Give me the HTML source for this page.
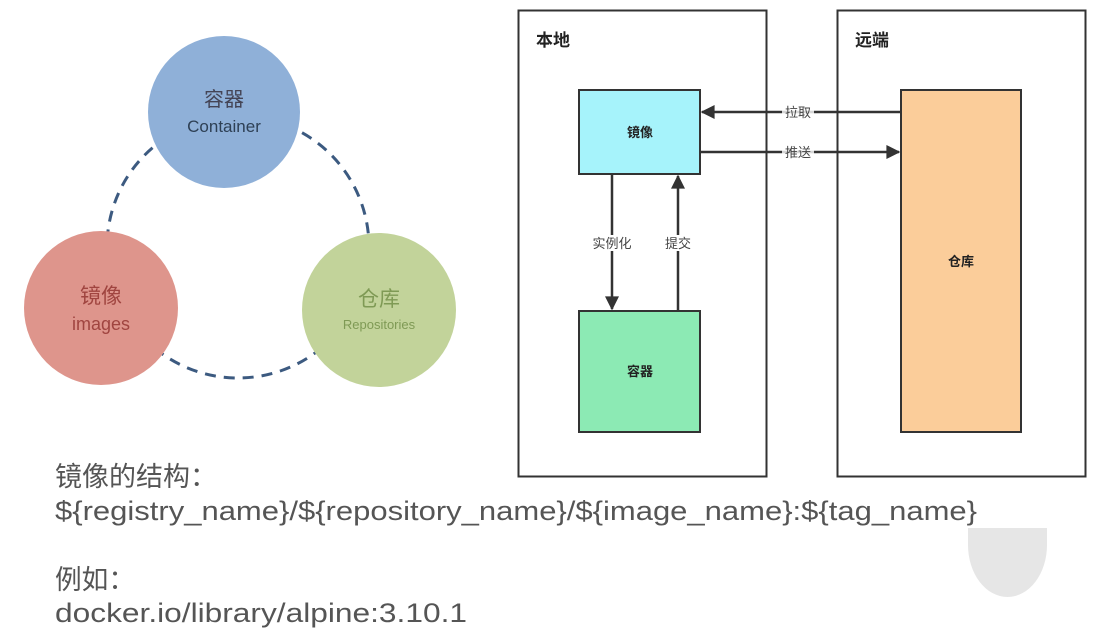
<!DOCTYPE html>
<html><head><meta charset="utf-8"><style>
html,body{margin:0;padding:0;background:#fff;}
svg{display:block;}
</style></head><body>
<svg width="1109" height="633" viewBox="0 0 1109 633" xmlns="http://www.w3.org/2000/svg" font-family="'Liberation Sans','Noto Sans CJK SC',sans-serif">
<defs>
<marker id="ah2" viewBox="0 0 10 10" refX="9" refY="5" markerWidth="18" markerHeight="14" orient="auto" markerUnits="userSpaceOnUse">
<path d="M0,0 L10,5 L0,10 z" fill="#333"/></marker>
</defs>
<circle cx="238" cy="247" r="131" fill="none" stroke="#3c5a80" stroke-width="3" stroke-dasharray="11 8"/>
<circle cx="224" cy="112" r="76" fill="#8fb0d8"/>
<circle cx="101" cy="308" r="77" fill="#de958c"/>
<circle cx="379" cy="310" r="77" fill="#c2d39a"/>
<text x="224" y="106" font-size="20" fill="#445" text-anchor="middle">容器</text>
<text x="224" y="132" font-size="17" fill="#2e4055" text-anchor="middle">Container</text>
<text x="101" y="303" font-size="21" fill="#a04540" text-anchor="middle">镜像</text>
<text x="101" y="330" font-size="18" fill="#a04540" text-anchor="middle">images</text>
<text x="379" y="306" font-size="21" fill="#7f9a55" text-anchor="middle">仓库</text>
<text x="379" y="329" font-size="13" fill="#7f9a55" text-anchor="middle">Repositories</text>

<rect x="518.5" y="10.5" width="248" height="466" fill="none" stroke="#333" stroke-width="2"/>
<rect x="837.5" y="10.5" width="248" height="466" fill="none" stroke="#333" stroke-width="2"/>
<text x="536" y="46" font-size="17" font-weight="bold" fill="#222">本地</text>
<text x="855" y="46" font-size="17" font-weight="bold" fill="#222">远端</text>
<rect x="579" y="90" width="121" height="84" fill="#a6f3fb" stroke="#333" stroke-width="2"/>
<rect x="579" y="311" width="121" height="121" fill="#8ceab4" stroke="#333" stroke-width="2"/>
<rect x="901" y="90" width="120" height="342" fill="#fbcd9a" stroke="#333" stroke-width="2"/>
<text x="640" y="137" font-size="13" font-weight="bold" fill="#222" text-anchor="middle">镜像</text>
<text x="640" y="376" font-size="13" font-weight="bold" fill="#222" text-anchor="middle">容器</text>
<text x="961" y="266" font-size="13" font-weight="bold" fill="#222" text-anchor="middle">仓库</text>

<line x1="901" y1="112" x2="702" y2="112" stroke="#333" stroke-width="2.5" marker-end="url(#ah2)"/>
<line x1="700" y1="152" x2="899" y2="152" stroke="#333" stroke-width="2.5" marker-end="url(#ah2)"/>
<line x1="612" y1="174" x2="612" y2="309" stroke="#333" stroke-width="2.5" marker-end="url(#ah2)"/>
<line x1="678" y1="311" x2="678" y2="176" stroke="#333" stroke-width="2.5" marker-end="url(#ah2)"/>
<rect x="782" y="104" width="32" height="16" fill="#fff" opacity="0.8"/>
<rect x="782" y="144" width="32" height="16" fill="#fff" opacity="0.8"/>
<rect x="588" y="235" width="48" height="16" fill="#fff"/>
<rect x="662" y="235" width="32" height="16" fill="#fff"/>
<text x="798" y="117" font-size="13" fill="#444" text-anchor="middle">拉取</text>
<text x="798" y="157" font-size="13" fill="#444" text-anchor="middle">推送</text>
<text x="612" y="248" font-size="13" fill="#444" text-anchor="middle">实例化</text>
<text x="678" y="248" font-size="13" fill="#444" text-anchor="middle">提交</text>

<path d="M968,528 L1047,528 L1047,545 A39.5,52 0 0 1 968,545 Z" fill="#e6e6e6"/>

<g font-size="27" fill="#555">
<text x="55" y="486" textLength="162" lengthAdjust="spacingAndGlyphs">镜像的结构：</text>
<text x="55" y="520" textLength="922" lengthAdjust="spacingAndGlyphs">${registry_name}/${repository_name}/${image_name}:${tag_name}</text>
<text x="55" y="589" textLength="80" lengthAdjust="spacingAndGlyphs">例如：</text>
<text x="55" y="622" textLength="412" lengthAdjust="spacingAndGlyphs">docker.io/library/alpine:3.10.1</text>
</g>
</svg>
</body></html>
